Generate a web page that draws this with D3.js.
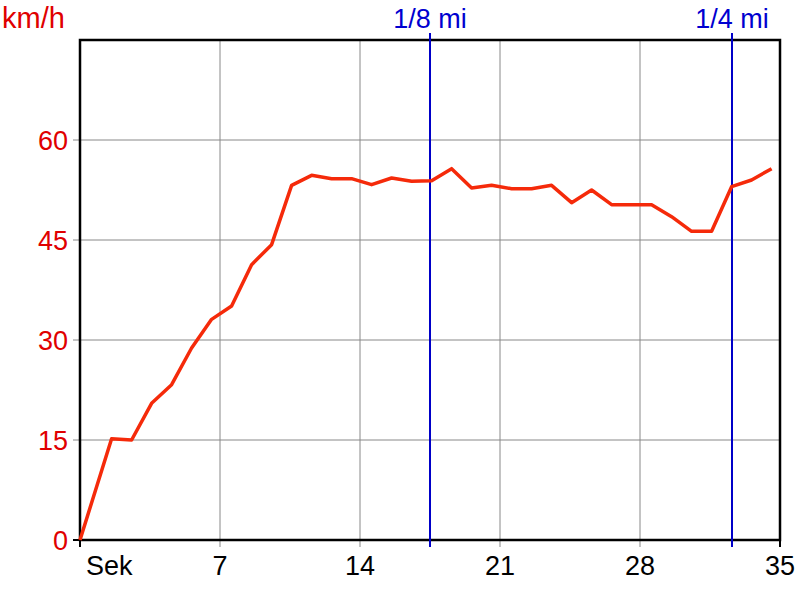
<!DOCTYPE html>
<html><head><meta charset="utf-8">
<script src="https://cdn.jsdelivr.net/npm/d3@7"></script>
<style>body{margin:0;background:#fff}svg{display:block}text{font-family:"Liberation Sans",Arial,sans-serif}</style>
</head><body><svg width="800" height="600"></svg>
<script>
const times = [0, 1.58, 2.58, 3.58, 4.58, 5.58, 6.58, 7.58, 8.58, 9.58, 10.58, 11.58, 12.58, 13.58, 14.58, 15.58, 16.58, 17.58, 18.58, 19.58, 20.58, 21.58, 22.58, 23.58, 24.58, 25.58, 26.58, 27.58, 28.58, 29.58, 30.58, 31.58, 32.58, 33.58, 34.58];
const speeds = [0, 15.2, 15.0, 20.5, 23.3, 28.8, 33.1, 35.1, 41.3, 44.3, 53.2, 54.7, 54.2, 54.2, 53.3, 54.3, 53.8, 53.9, 55.7, 52.8, 53.2, 52.7, 52.7, 53.2, 50.6, 52.5, 50.3, 50.3, 50.3, 48.5, 46.3, 46.3, 53.0, 54.0, 55.7];
const xTicks = [0, 7, 14, 21, 28, 35];
const xTickLabels = ["Sek", "7", "14", "21", "28", "35"];
const yTicks = [0, 15, 30, 45, 60];
const markerTimes = [17.5, 32.6];
const markerLabels = ["1/8 mi", "1/4 mi"];

const svg = d3.select("svg");
const x = d3.scaleLinear().domain([0, 35]).range([80, 780]);
const y = d3.scaleLinear().domain([0, 75]).range([540, 40]);

// grid
svg.append("g").selectAll("line").data(xTicks.slice(1, -1)).join("line")
  .attr("x1", d => x(d)).attr("x2", d => x(d)).attr("y1", 40).attr("y2", 547)
  .attr("stroke", "#888").attr("stroke-width", 1);
svg.append("g").selectAll("line").data(yTicks.slice(1)).join("line")
  .attr("x1", 73).attr("x2", 780).attr("y1", d => y(d)).attr("y2", d => y(d))
  .attr("stroke", "#888").attr("stroke-width", 1);
// edge ticks
svg.append("line").attr("x1", 73).attr("x2", 80).attr("y1", y(0)).attr("y2", y(0)).attr("stroke", "#000").attr("stroke-width", 2);
svg.append("g").selectAll("line").data([0, 35]).join("line")
  .attr("x1", d => x(d)).attr("x2", d => x(d)).attr("y1", 540).attr("y2", 547)
  .attr("stroke", "#000").attr("stroke-width", 2);

// frame
svg.append("rect").attr("x", 80).attr("y", 40).attr("width", 700).attr("height", 500)
  .attr("fill", "none").attr("stroke", "#000").attr("stroke-width", 2.5);

// markers
svg.append("g").selectAll("line").data(markerTimes).join("line")
  .attr("x1", d => x(d)).attr("x2", d => x(d)).attr("y1", 33).attr("y2", 547)
  .attr("stroke", "#0000c8").attr("stroke-width", 2);
svg.append("g").selectAll("text").data(markerTimes).join("text")
  .attr("x", d => x(d)).attr("y", 28).attr("text-anchor", "middle")
  .attr("fill", "#0000d0").attr("font-size", 27).text((d, i) => markerLabels[i]);

// line
const pts = times.map((t, i) => [t, speeds[i]]);
svg.append("path").datum(pts)
  .attr("d", d3.line().x(d => x(d[0])).y(d => y(d[1])))
  .attr("fill", "none").attr("stroke", "#f52a0a").attr("stroke-width", 3.5)
  .attr("stroke-linejoin", "round");

// labels
svg.append("g").selectAll("text").data(yTicks).join("text")
  .attr("x", 68).attr("y", d => y(d) + 10).attr("text-anchor", "end")
  .attr("fill", "#e00000").attr("font-size", 27).text(d => d);
svg.append("text").attr("x", 2).attr("y", 28).attr("fill", "#e00000").attr("font-size", 29).text("km/h");
svg.append("g").selectAll("text").data(xTicks).join("text")
  .attr("x", d => d === 0 ? 86 : x(d)).attr("y", 575)
  .attr("text-anchor", d => d === 0 ? "start" : "middle")
  .attr("fill", "#000").attr("font-size", 27).text((d, i) => xTickLabels[i]);
</script></body></html>
